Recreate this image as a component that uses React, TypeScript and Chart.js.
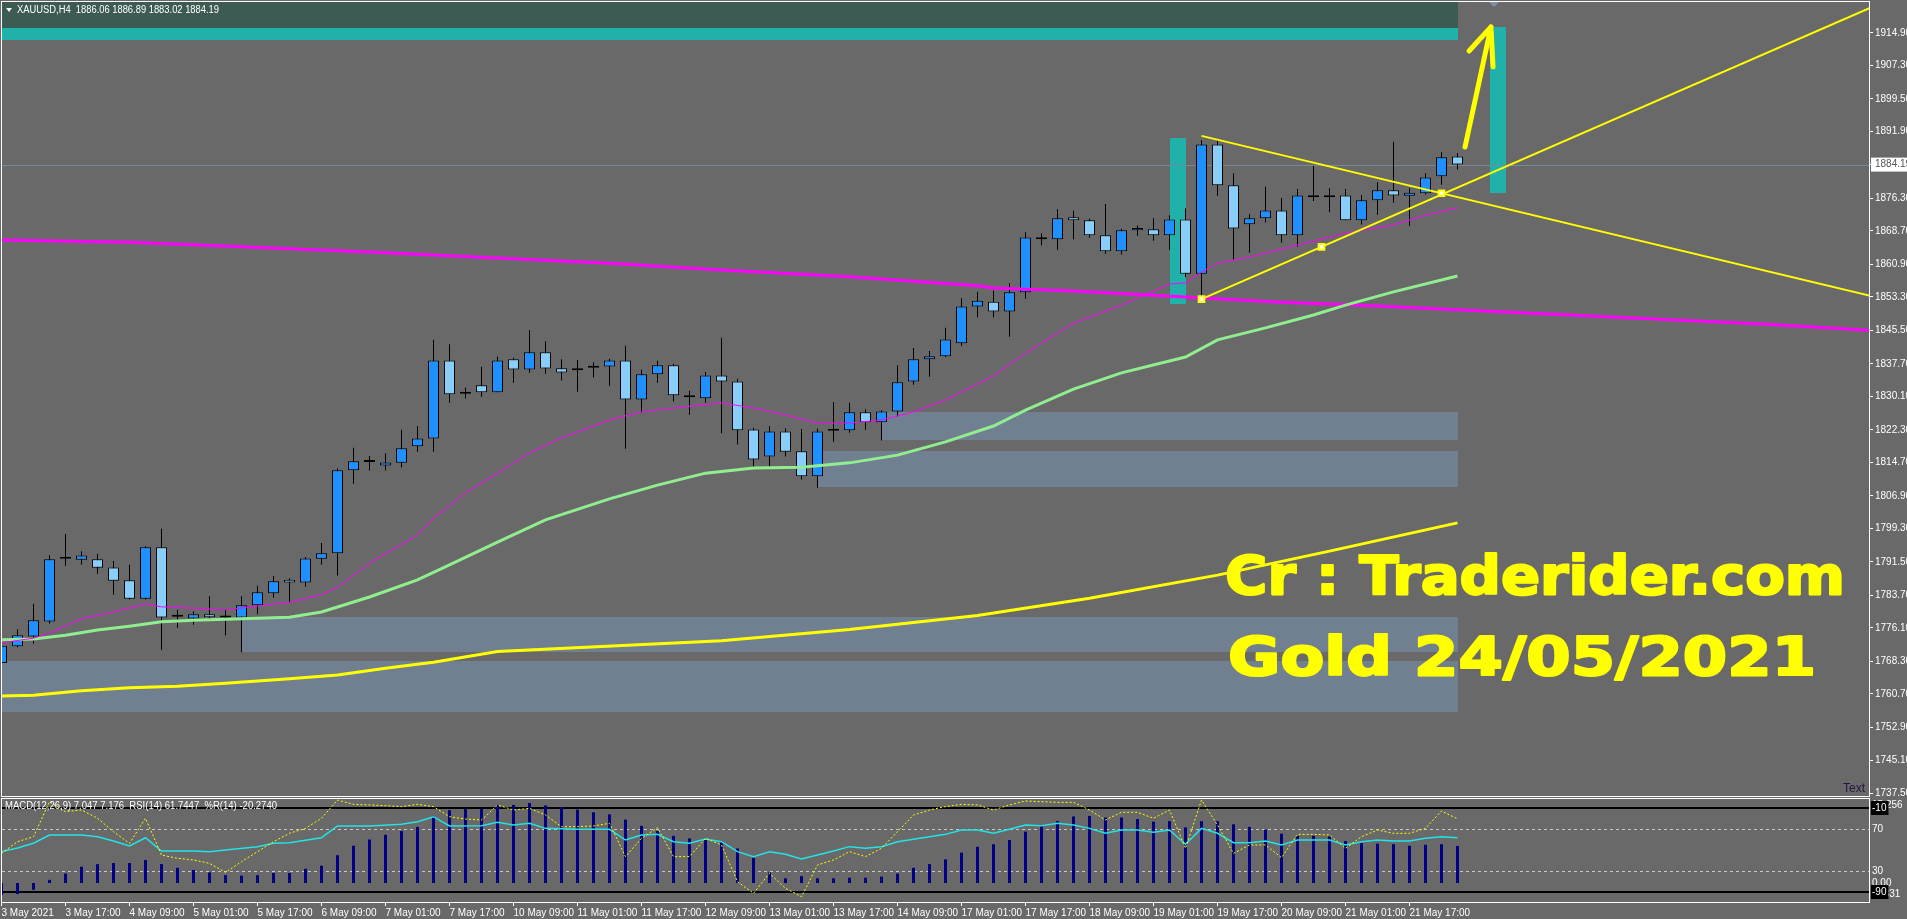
import React, { useEffect, useRef } from 'react';
import { Chart, registerables } from 'chart.js';

Chart.register(...registerables);
Chart.defaults.font.family = '"Liberation Sans", Arial, sans-serif';

// ---------------- data ----------------
const symbolTitle = 'XAUUSD,H4  1886.06 1886.89 1883.02 1884.19';
const indicatorTitle = 'MACD(12,26,9) 7.047 7.176  RSI(14) 61.7447  %R(14) -20.2740';

const openP = [
  1767.9, 1771.8, 1774.1, 1777.6, 1792.2, 1792.0, 1792.1, 1790.2, 1787.2, 1782.9,
  1794.9, 1778.7, 1778.3, 1779.3, 1778.5, 1778.5, 1781.4, 1784.2, 1787.3, 1786.7,
  1792.2, 1793.5, 1812.9, 1814.8, 1814.0, 1814.6, 1818.5, 1820.3, 1838.5, 1830.7,
  1832.7, 1831.1, 1838.8, 1836.4, 1840.4, 1836.7, 1836.7, 1836.8, 1837.1, 1838.5,
  1829.4, 1835.3, 1837.4, 1830.4, 1829.7, 1835.0, 1833.6, 1822.4, 1816.1, 1821.9,
  1817.3, 1811.5, 1822.1, 1822.2, 1826.4, 1824.1, 1826.6, 1833.6, 1838.8, 1839.5,
  1842.5, 1851.1, 1852.2, 1849.9, 1854.4, 1867.2, 1866.8, 1871.9, 1871.2, 1867.7,
  1864.0, 1868.9, 1869.1, 1867.7, 1871.4, 1858.7, 1888.9, 1879.4, 1870.3, 1871.7,
  1873.5, 1867.7, 1877.0, 1876.6, 1877.0, 1871.2, 1875.9, 1878.2, 1876.9, 1877.5,
  1881.5, 1886.06,
];
const highP = [
  1772.2, 1775.8, 1781.7, 1793.1, 1798.0, 1794.0, 1793.4, 1791.7, 1790.8, 1795.2,
  1799.2, 1780.3, 1780.0, 1783.5, 1780.3, 1783.5, 1785.9, 1788.2, 1787.7, 1792.6,
  1795.9, 1813.3, 1818.1, 1816.2, 1816.8, 1822.3, 1823.2, 1843.3, 1842.3, 1832.2,
  1837.0, 1839.4, 1839.1, 1845.6, 1843.0, 1838.8, 1838.6, 1838.1, 1838.9, 1841.9,
  1836.3, 1838.4, 1837.7, 1831.4, 1835.8, 1843.8, 1834.2, 1822.8, 1823.2, 1822.7,
  1822.5, 1822.6, 1828.8, 1828.6, 1827.1, 1826.9, 1837.4, 1841.4, 1840.7, 1846.1,
  1853.0, 1854.5, 1854.8, 1856.5, 1868.4, 1868.2, 1873.8, 1873.4, 1871.6, 1875.0,
  1869.2, 1870.0, 1871.7, 1872.4, 1874.0, 1889.9, 1889.8, 1882.2, 1872.6, 1879.0,
  1876.4, 1878.5, 1883.9, 1878.7, 1878.5, 1877.1, 1880.1, 1889.5, 1878.7, 1882.2,
  1887.1, 1886.89,
];
const lowP = [
  1766.0, 1771.6, 1772.4, 1777.1, 1790.6, 1790.8, 1788.7, 1783.8, 1782.7, 1782.7,
  1771.0, 1776.1, 1776.8, 1778.1, 1774.3, 1770.4, 1779.3, 1783.1, 1782.0, 1785.7,
  1790.8, 1788.3, 1809.7, 1812.8, 1812.8, 1813.5, 1817.2, 1817.2, 1828.6, 1829.6,
  1830.0, 1831.1, 1833.3, 1835.6, 1835.4, 1833.8, 1831.2, 1834.5, 1832.6, 1817.9,
  1826.3, 1833.3, 1828.9, 1825.8, 1828.6, 1821.5, 1818.9, 1813.5, 1813.7, 1816.1,
  1810.7, 1808.8, 1819.5, 1821.6, 1822.3, 1819.8, 1825.4, 1832.8, 1834.7, 1839.3,
  1841.9, 1848.6, 1848.5, 1844.0, 1852.9, 1865.3, 1864.3, 1866.8, 1867.1, 1863.4,
  1863.2, 1867.6, 1866.4, 1864.3, 1857.9, 1852.1, 1876.9, 1862.0, 1863.6, 1870.7,
  1866.0, 1865.0, 1875.7, 1873.1, 1871.2, 1870.2, 1872.5, 1875.3, 1869.9, 1877.2,
  1879.5, 1883.02,
];
const closeP = [
  1771.9, 1774.4, 1777.9, 1792.1, 1792.2, 1793.0, 1790.1, 1787.1, 1782.9, 1794.9,
  1778.5, 1778.7, 1779.3, 1778.6, 1778.5, 1781.4, 1784.4, 1787.0, 1786.7, 1792.3,
  1793.5, 1812.9, 1815.0, 1814.8, 1814.7, 1818.0, 1820.3, 1838.5, 1830.6, 1830.7,
  1831.1, 1838.5, 1836.4, 1840.4, 1836.6, 1835.7, 1836.2, 1836.8, 1838.5, 1829.4,
  1835.3, 1837.4, 1830.4, 1829.9, 1835.0, 1833.6, 1822.2, 1815.4, 1821.9, 1817.2,
  1811.5, 1821.9, 1822.1, 1826.4, 1824.1, 1826.6, 1833.4, 1838.8, 1839.5, 1843.4,
  1851.1, 1852.4, 1849.9, 1854.4, 1867.2, 1866.8, 1871.7, 1871.2, 1867.7, 1864.0,
  1868.9, 1869.4, 1867.7, 1871.4, 1858.7, 1888.9, 1879.4, 1869.3, 1871.7, 1873.5,
  1867.7, 1877.0, 1876.6, 1877.0, 1871.2, 1875.9, 1878.2, 1877.0, 1877.6, 1881.2,
  1885.9, 1884.19,
];
const lastClose = 1884.19;

const priceTickLabels = [
  '1914.90', '1907.30', '1899.50', '1891.90', '1876.30', '1868.70', '1860.90', '1853.30',
  '1845.50', '1837.70', '1830.10', '1822.30', '1814.70', '1806.90', '1799.30', '1791.50',
  '1783.70', '1776.10', '1768.30', '1760.70', '1752.90', '1745.10', '1737.50',
];
const timeTickLabels = [
  '3 May 2021', '3 May 17:00', '4 May 09:00', '5 May 01:00', '5 May 17:00', '6 May 09:00',
  '7 May 01:00', '7 May 17:00', '10 May 09:00', '11 May 01:00', '11 May 17:00', '12 May 09:00',
  '13 May 01:00', '13 May 17:00', '14 May 09:00', '17 May 01:00', '17 May 17:00', '18 May 09:00',
  '19 May 01:00', '19 May 17:00', '20 May 09:00', '21 May 01:00', '21 May 17:00',
];
const timeTickBars = [0, 4, 8, 12, 16, 20, 24, 28, 32, 36, 40, 44, 48, 52, 56, 60, 64, 68, 72, 76, 80, 84, 88];

// moving averages (bar index, price)
const maFastIdx = [0, 2, 3, 5, 7, 9, 10, 12, 14, 16, 18, 20, 21, 23, 26, 27, 29, 31, 33, 35, 38, 40, 42, 45, 47, 49, 51, 53, 55, 57, 59, 62, 64, 67, 70, 73, 74, 75, 76, 78, 81, 84, 87, 89, 91];
const maFastVal = [1772.6, 1773.7, 1774.9, 1778.2, 1779.8, 1781.7, 1781.0, 1780.7, 1780.3, 1781.2, 1782.1, 1783.8, 1785.6, 1791.2, 1797.8, 1801.7, 1807.6, 1812.2, 1816.9, 1820.4, 1824.6, 1826.5, 1827.4, 1828.6, 1827.4, 1825.8, 1823.9, 1823.9, 1824.6, 1826.5, 1829.3, 1834.9, 1840.2, 1847.2, 1851.4, 1856.3, 1856.6, 1859.1, 1861.2, 1862.6, 1865.4, 1868.2, 1870.1, 1872.4, 1874.1];
const maMidIdx = [0, 2, 4, 6, 8, 10, 12, 15, 18, 20, 23, 26, 28, 31, 34, 38, 41, 44, 47, 50, 53, 56, 59, 62, 64, 67, 70, 74, 76, 79, 82, 84, 87, 91];
const maMidVal = [1773.3, 1773.5, 1774.4, 1775.6, 1776.5, 1777.5, 1777.9, 1778.2, 1778.6, 1779.8, 1783.3, 1787.3, 1790.8, 1796.1, 1801.3, 1806.2, 1809.4, 1812.2, 1813.4, 1813.6, 1814.6, 1816.4, 1819.5, 1823.2, 1826.9, 1831.8, 1835.6, 1839.3, 1843.3, 1846.1, 1849.1, 1851.4, 1854.5, 1858.2];
const maLongIdx = [0, 2, 5, 8, 11, 14, 18, 21, 24, 27, 31, 45, 53, 61, 68, 76, 83, 91];
const maLongVal = [1760.2, 1760.4, 1761.4, 1762.1, 1762.5, 1763.2, 1764.2, 1765.1, 1766.7, 1768.1, 1770.6, 1773.1, 1775.7, 1779.0, 1783.0, 1788.4, 1794.0, 1800.6];
const maDailyIdx = [0, 8, 15, 23, 30, 38, 45, 53, 61, 62, 67, 74, 80, 85, 91, 102, 110, 117];
const maDailyVal = [1866.6, 1866.1, 1865.0, 1863.8, 1862.6, 1861.2, 1859.6, 1858.0, 1855.9, 1855.4, 1854.7, 1853.3, 1852.1, 1851.4, 1850.3, 1848.4, 1847.0, 1845.5];

// trend lines / arrow (bar index, price)
const trendDownX = [75, 117];
const trendDownY = [1890.9, 1853.4];
const trendUpX = [75, 117];
const trendUpY = [1852.8, 1921.1];
const anchorX = [75, 82.5, 90];
const anchorY = [1852.8, 1865.0, 1877.5];
const arrowShaftX = [91.47, 93.09];
const arrowShaftY = [1888.3, 1916.3];
const arrowHeadX = [91.72, 93.09, 93.22];
const arrowHeadY = [1910.7, 1916.3, 1907.0];

// rectangles (bar from/to, price from/to, kind)
const boxX0 = [-1, -1, -1, 15, 55, 51, 73.03, 93.03];
const boxX1 = [91, 91, 91, 91, 91, 91, 74.03, 94.03];
const boxY0 = [1916.1, 1913.3, 1756.5, 1770.5, 1819.9, 1809.0, 1851.7, 1877.6];
const boxY1 = [1923.0, 1916.1, 1768.4, 1778.6, 1826.5, 1817.4, 1890.4, 1916.3];
const boxKind = ['dark', 'teal', 'zone', 'zone', 'zone', 'zone', 'teal', 'teal'];

// text notes
const noteTexts = ['Cr : Traderider.com', 'Gold 24/05/2021'];
const noteBar = [76.47, 76.66];
const notePrice = [1784.0, 1765.1];

// indicator window
const macdVal = [
  -2.3, -2.1, -1.3, 0.6, 1.8, 3.1, 3.6, 3.8, 3.8, 4.4,
  3.6, 2.9, 2.5, 2.0, 1.5, 1.4, 1.5, 1.9, 1.9, 2.7,
  3.3, 5.3, 7.1, 8.3, 9.2, 9.9, 10.7, 12.7, 13.9, 14.1,
  14.1, 14.9, 14.9, 15.26, 14.8, 14.5, 14.0, 13.5, 13.1, 12.1,
  10.9, 9.9, 9.0, 8.5, 8.2, 7.9, 6.6, 4.8, 2.0, 0.9,
  1.3, 0.9, 0.9, 1.0, 1.0, 1.2, 1.8, 2.9, 3.6, 4.5,
  5.8, 6.9, 7.4, 8.2, 9.8, 10.9, 11.8, 12.7, 12.8, 12.5,
  12.5, 12.2, 11.7, 11.8, 10.6, 11.8, 11.8, 11.2, 10.7, 10.2,
  9.4, 9.0, 9.0, 8.9, 8.0, 7.6, 7.5, 7.4, 7.1, 7.3,
  7.4, 7.05,
];
const rsiIdx = [0, 1, 2, 3, 5, 6, 7, 8, 9, 10, 12, 13, 14, 16, 17, 18, 20, 21, 23, 25, 26, 27, 28, 30, 31, 32, 33, 34, 36, 38, 39, 40, 41, 42, 43, 44, 45, 46, 47, 48, 49, 50, 52, 53, 54, 55, 56, 58, 59, 60, 61, 62, 63, 64, 65, 66, 67, 68, 69, 70, 71, 72, 73, 74, 75, 76, 77, 78, 79, 80, 81, 82, 83, 84, 85, 86, 87, 88, 89, 90, 91];
const rsiVal = [48.4, 52.0, 56.4, 64.3, 64.3, 62.7, 58.6, 53.8, 61.7, 49.0, 49.0, 48.4, 50.0, 53.2, 56.4, 57.0, 61.7, 72.9, 72.9, 74.5, 77.0, 81.7, 72.9, 73.2, 76.4, 73.8, 75.4, 70.6, 69.7, 69.7, 59.5, 64.3, 64.9, 57.9, 56.4, 60.5, 57.9, 48.4, 43.7, 48.4, 45.9, 41.4, 49.0, 53.2, 51.6, 53.2, 57.9, 62.7, 64.9, 69.0, 69.0, 65.9, 69.7, 73.8, 73.2, 75.4, 73.8, 70.6, 65.9, 69.0, 69.0, 66.8, 69.0, 55.4, 70.6, 65.9, 57.0, 57.0, 58.6, 54.8, 59.5, 59.5, 59.5, 54.8, 57.9, 59.5, 58.6, 58.6, 61.1, 62.7, 61.7];
const wprVal = [
  -53.2, -42.1, -37.3, -4.0, -13.5, -11.9, -19.8, -32.6, -43.6, -19.8,
  -54.8, -57.9, -59.5, -62.7, -71.3, -61.1, -51.6, -42.1, -34.1, -29.4,
  -19.8, -2.4, -6.5, -7.1, -7.8, -8.7, -6.5, -8.7, -18.3, -20.5,
  -21.4, -7.1, -11.9, -10.3, -16.7, -27.8, -27.8, -27.1, -24.6, -56.3,
  -38.9, -28.7, -56.3, -56.3, -38.9, -45.2, -80.2, -91.2, -72.2, -86.5,
  -94.5, -64.3, -59.5, -51.6, -56.3, -48.4, -32.6, -16.7, -11.9, -8.7,
  -6.5, -7.1, -11.9, -7.1, -3.3, -4.0, -4.6, -4.6, -11.9, -21.4,
  -14.1, -14.1, -19.8, -11.9, -48.4, -2.4, -26.2, -53.2, -45.2, -45.2,
  -57.3, -35.1, -35.1, -35.7, -48.4, -37.3, -31.0, -34.1, -34.1, -29.4,
  -12.9, -20.27,
];
const rsiSolidLevels = [90, 10];
const rsiDashLevels = [70, 30];
const indTickVals = [93, 90, 70, 30, 18.6, 8, 10];
const indTickLabels = ['15.256', '-10', '70', '30', '0.00', '-9.331', '-90'];

// ---------------- ranges ----------------
const X_MIN = 0.03125;
const X_MAX = 116.71875;
const Y_MIN = 1736.87;
const Y_MAX = 1922.13;
const RSI_MIN = 0.48;
const RSI_MAX = 98.57;
const MACD_MIN = -3.63;
const MACD_MAX = 16.03;

// ---------------- styles ----------------
const BG = '#696969';
const BULL = '#1E90FF';
const BEAR = '#87CEFA';
const boxColor: Record<string, string> = { dark: '#3b5b53', teal: '#20B2AA', zone: '#708090' };

const pts = (xs: number[], ys: number[]) => xs.map((x, k) => ({ x, y: ys[k] }));

const bgPlugin = {
  id: 'bgFill',
  beforeDraw(chart: any) {
    const { ctx, width, height } = chart;
    ctx.save();
    ctx.fillStyle = BG;
    ctx.fillRect(0, 0, width, height);
    ctx.restore();
  },
};

const mainBack = {
  id: 'mainBack',
  beforeDatasetsDraw(chart: any) {
    const { ctx, chartArea: a, scales } = chart;
    const xs = scales.x;
    const ys = scales.y;
    ctx.save();
    ctx.beginPath();
    ctx.rect(a.left, a.top, a.right - a.left, a.bottom - a.top);
    ctx.clip();
    for (let k = 0; k < boxX0.length; k++) {
      const x0 = Math.round(xs.getPixelForValue(boxX0[k]));
      const x1 = Math.round(xs.getPixelForValue(boxX1[k]));
      const y0 = Math.round(ys.getPixelForValue(boxY1[k]));
      const y1 = Math.round(ys.getPixelForValue(boxY0[k]));
      ctx.fillStyle = boxColor[boxKind[k]];
      ctx.fillRect(x0, y0, x1 - x0, y1 - y0);
    }
    const py = Math.round(ys.getPixelForValue(lastClose)) + 0.5;
    ctx.strokeStyle = '#778899';
    ctx.lineWidth = 1;
    ctx.beginPath();
    ctx.moveTo(a.left, py);
    ctx.lineTo(a.right, py);
    ctx.stroke();
    ctx.restore();
  },
};

const NOTE_WIDTHS = [620, 588];

const mainFront = {
  id: 'mainFront',
  afterDatasetsDraw(chart: any) {
    const { ctx, chartArea: a, scales } = chart;
    const xs = scales.x;
    const ys = scales.y;
    ctx.save();
    ctx.beginPath();
    ctx.rect(a.left, a.top, a.right - a.left, a.bottom - a.top);
    ctx.clip();
    ctx.font = 'bold 54px "DejaVu Sans"';
    ctx.fillStyle = '#FFFF00';
    ctx.strokeStyle = '#FFFF00';
    ctx.lineWidth = 2.2;
    ctx.lineJoin = 'round';
    ctx.textAlign = 'left';
    ctx.textBaseline = 'alphabetic';
    noteTexts.forEach((t, k) => {
      const px = xs.getPixelForValue(noteBar[k]);
      const py = ys.getPixelForValue(notePrice[k]);
      const w = ctx.measureText(t).width;
      ctx.save();
      ctx.translate(px, py);
      ctx.scale(NOTE_WIDTHS[k] / w, 1);
      ctx.fillText(t, 0, 0);
      ctx.strokeText(t, 0, 0);
      ctx.restore();
    });
    // header
    ctx.fillStyle = '#ffffff';
    ctx.beginPath();
    ctx.moveTo(6, 8);
    ctx.lineTo(12, 8);
    ctx.lineTo(9, 12);
    ctx.closePath();
    ctx.fill();
    ctx.font = '10px "Liberation Sans"';
    ctx.textBaseline = 'middle';
    ctx.fillText(symbolTitle, 17, 10, 202);
    // Text label
    ctx.fillStyle = '#26163f';
    ctx.font = '12px "Liberation Sans"';
    ctx.fillText('Text', 1843, 789);
    // shift marker
    ctx.fillStyle = '#8090a8';
    ctx.beginPath();
    ctx.moveTo(1489, 2);
    ctx.lineTo(1499, 2);
    ctx.lineTo(1494, 7);
    ctx.closePath();
    ctx.fill();
    ctx.restore();
    ctx.save();
    ctx.strokeStyle = '#ffffff';
    ctx.lineWidth = 1;
    ctx.strokeRect(a.left - 0.5, a.top - 0.5, a.right - a.left + 1, a.bottom - a.top + 1);
    ctx.restore();
  },
};

const indBack = {
  id: 'indBack',
  beforeDatasetsDraw(chart: any) {
    const { ctx, chartArea: a, scales } = chart;
    const ys = scales.y;
    ctx.save();
    ctx.strokeStyle = '#c8c8c8';
    ctx.lineWidth = 1;
    ctx.setLineDash([3, 3]);
    rsiDashLevels.forEach((v) => {
      const y = Math.round(ys.getPixelForValue(v)) + 0.5;
      ctx.beginPath();
      ctx.moveTo(a.left, y);
      ctx.lineTo(a.right, y);
      ctx.stroke();
    });
    ctx.setLineDash([]);
    ctx.strokeStyle = '#000000';
    ctx.lineWidth = 2;
    rsiSolidLevels.forEach((v) => {
      const y = Math.round(ys.getPixelForValue(v));
      ctx.beginPath();
      ctx.moveTo(a.left, y);
      ctx.lineTo(a.right, y);
      ctx.stroke();
    });
    ctx.restore();
  },
  afterDatasetsDraw(chart: any) {
    const { ctx, chartArea: a } = chart;
    ctx.save();
    ctx.fillStyle = '#ffffff';
    ctx.font = '10px "Liberation Sans"';
    ctx.textBaseline = 'middle';
    ctx.textAlign = 'left';
    ctx.fillText(indicatorTitle, 5, 8, 272);
    ctx.strokeStyle = '#ffffff';
    ctx.lineWidth = 1;
    ctx.strokeRect(a.left - 0.5, a.top - 0.5, a.right - a.left + 1, a.bottom - a.top + 1);
    ctx.restore();
  },
};

const axisFont = { family: '"Liberation Sans"', size: 10 };

export default function App() {
  const mainRef = useRef<HTMLCanvasElement | null>(null);
  const indRef = useRef<HTMLCanvasElement | null>(null);

  useEffect(() => {
    const bars = openP.map((_, i) => i);
    const wickData = bars.map((i) => ({ x: i, y: [lowP[i], highP[i]] }));
    const bodyData = bars.map((i) => ({ x: i, y: [openP[i], closeP[i]] }));
    const bodyColors = bars.map((i) => (closeP[i] >= openP[i] ? BULL : BEAR));

    const lineDs = (data: any[], color: string, width: number, extra: any = {}) => ({
      type: 'line',
      data,
      borderColor: color,
      borderWidth: width,
      pointRadius: 0,
      fill: false,
      tension: 0,
      ...extra,
    });

    const main = new Chart(mainRef.current as HTMLCanvasElement, {
      type: 'bar',
      data: {
        datasets: [
          lineDs(pts(arrowShaftX, arrowShaftY), '#FFFF00', 5, { borderCapStyle: 'round' }),
          lineDs(pts(arrowHeadX, arrowHeadY), '#FFFF00', 5, { borderCapStyle: 'round', borderJoinStyle: 'round' }),
          lineDs(pts(anchorX, anchorY), '#FFFF00', 0, {
            showLine: false,
            pointRadius: 4,
            pointStyle: 'rect',
            pointBackgroundColor: '#ffffff',
            pointBorderColor: '#FFFF00',
            pointBorderWidth: 2,
          }),
          lineDs(pts(trendDownX, trendDownY), '#FFFF00', 2),
          lineDs(pts(trendUpX, trendUpY), '#FFFF00', 2),
          lineDs(pts(maFastIdx, maFastVal), '#FF00FF', 1),
          lineDs(pts(maMidIdx, maMidVal), '#90EE90', 3),
          lineDs(pts(maLongIdx, maLongVal), '#FFFF00', 3),
          lineDs(pts(maDailyIdx, maDailyVal), '#FF00FF', 3),
          {
            type: 'bar',
            data: bodyData,
            backgroundColor: bodyColors,
            borderColor: '#000000',
            borderWidth: 1,
            borderSkipped: false,
            barThickness: 11,
            minBarLength: 2,
            grouped: false,
            inflateAmount: 0,
          },
          {
            type: 'bar',
            data: wickData,
            backgroundColor: '#000000',
            borderWidth: 0,
            barThickness: 1,
            grouped: false,
            inflateAmount: 0,
          },
        ] as any,
      },
      options: {
        responsive: false,
        animation: false,
        devicePixelRatio: 1,
        events: [],
        layout: { autoPadding: false, padding: { left: 2, top: 2, right: 0, bottom: 2 } },
        plugins: { legend: { display: false }, tooltip: { enabled: false } },
        scales: {
          x: {
            type: 'linear',
            display: false,
            offset: false,
            min: X_MIN,
            max: X_MAX,
            bounds: 'data',
            grid: { offset: false },
          },
          y: {
            type: 'linear',
            position: 'right',
            min: Y_MIN,
            max: Y_MAX,
            bounds: 'data',
            afterBuildTicks: (s: any) => {
              s.ticks = [...priceTickLabels.map((t) => ({ value: parseFloat(t) })), { value: lastClose }];
            },
            afterFit: (s: any) => {
              s.width = 38;
              s.paddingTop = 0;
              s.paddingBottom = 0;
            },
            ticks: {
              autoSkip: false,
              font: axisFont,
              padding: 2,
              color: (c: any) => (c.index === priceTickLabels.length ? '#555555' : '#ffffff'),
              showLabelBackdrop: (c: any) => c.index === priceTickLabels.length,
              backdropColor: '#ffffff',
              backdropPadding: { top: 1, bottom: 1, left: 4, right: 4 },
              callback: (_v: any, k: number) => (k < priceTickLabels.length ? priceTickLabels[k] : lastClose.toFixed(2)),
            },
            grid: { drawOnChartArea: false, drawTicks: true, tickLength: 4, color: '#ffffff' },
            border: { display: true, color: '#ffffff' },
          },
        },
      } as any,
      plugins: [bgPlugin, mainBack, mainFront],
    });

    const ind = new Chart(indRef.current as HTMLCanvasElement, {
      type: 'bar',
      data: {
        datasets: [
          lineDs(wprVal.map((v, i) => ({ x: i, y: v })), '#FFFF00', 1, { borderDash: [2, 2], yAxisID: 'yw' }),
          lineDs(pts(rsiIdx, rsiVal), '#22E3E6', 1.5, { yAxisID: 'y' }),
          {
            type: 'bar',
            data: macdVal.map((v, i) => ({ x: i, y: v })),
            backgroundColor: '#000080',
            borderWidth: 0,
            barThickness: 3,
            grouped: false,
            inflateAmount: 0,
            yAxisID: 'ym',
          },
        ] as any,
      },
      options: {
        responsive: false,
        animation: false,
        devicePixelRatio: 1,
        events: [],
        layout: { autoPadding: false, padding: { left: 2, top: 1, right: 0, bottom: 0 } },
        plugins: { legend: { display: false }, tooltip: { enabled: false } },
        scales: {
          x: {
            type: 'linear',
            position: 'bottom',
            offset: false,
            min: X_MIN,
            max: X_MAX,
            bounds: 'data',
            afterBuildTicks: (s: any) => {
              s.ticks = timeTickBars.map((v) => ({ value: v }));
            },
            afterFit: (s: any) => {
              s.height = 17;
              s.paddingLeft = 0;
              s.paddingRight = 0;
            },
            ticks: {
              autoSkip: false,
              maxRotation: 0,
              minRotation: 0,
              align: 'start',
              color: '#ffffff',
              font: axisFont,
              padding: 1,
              callback: (_v: any, k: number) => timeTickLabels[k],
            },
            grid: { offset: false, drawOnChartArea: false, drawTicks: true, tickLength: 4, color: '#ffffff' },
            border: { display: true, color: '#ffffff' },
          },
          y: {
            type: 'linear',
            position: 'right',
            min: RSI_MIN,
            max: RSI_MAX,
            bounds: 'data',
            afterBuildTicks: (s: any) => {
              s.ticks = indTickVals.map((v) => ({ value: v }));
            },
            afterFit: (s: any) => {
              s.width = 38;
              s.paddingTop = 0;
              s.paddingBottom = 0;
            },
            ticks: {
              autoSkip: false,
              font: axisFont,
              padding: 3,
              color: '#ffffff',
              showLabelBackdrop: (c: any) => indTickLabels[c.index] === '-10' || indTickLabels[c.index] === '-90',
              backdropColor: '#000000',
              backdropPadding: { top: 1, bottom: 1, left: 1, right: 2 },
              callback: (_v: any, k: number) => indTickLabels[k],
            },
            grid: { drawOnChartArea: false, drawTicks: false },
            border: { display: true, color: '#ffffff' },
          },
          ym: { type: 'linear', display: false, min: MACD_MIN, max: MACD_MAX, bounds: 'data' },
          yw: { type: 'linear', display: false, min: RSI_MIN - 100, max: RSI_MAX - 100, bounds: 'data' },
        },
      } as any,
      plugins: [bgPlugin, indBack],
    });

    return () => {
      main.destroy();
      ind.destroy();
    };
  }, []);

  return (
    <div style={{ position: 'fixed', left: 0, top: 0, width: 1907, height: 919, background: BG, overflow: 'hidden' }}>
      <canvas ref={mainRef} width={1907} height={798} style={{ position: 'absolute', left: 0, top: 0, display: 'block' }} />
      <canvas ref={indRef} width={1907} height={121} style={{ position: 'absolute', left: 0, top: 798, display: 'block' }} />
    </div>
  );
}
